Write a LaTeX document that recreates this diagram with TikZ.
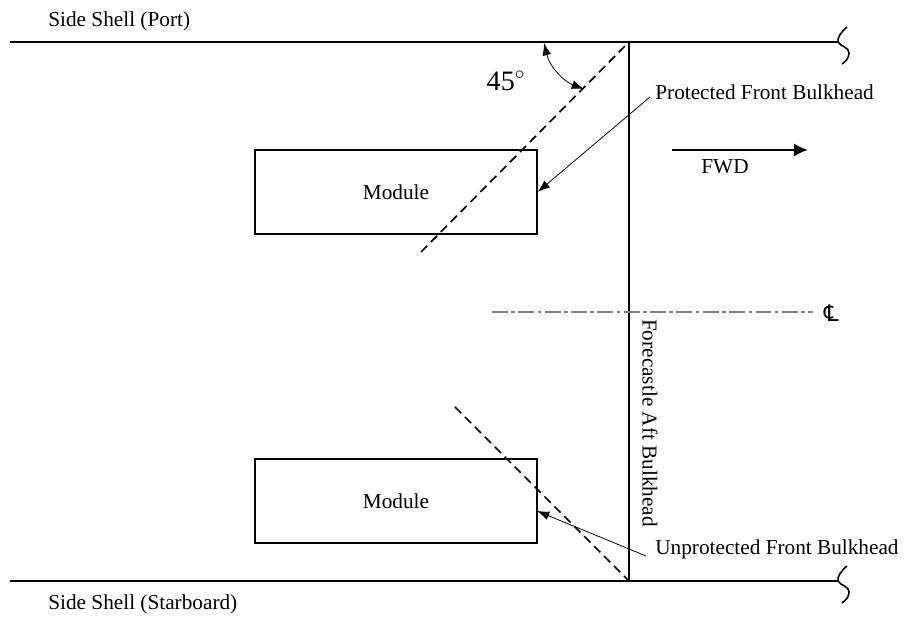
\documentclass[tikz,border=0pt]{standalone}
\usepackage{fontspec}
\setmainfont{Liberation Serif}
\newfontfamily\clfont{DejaVu Sans}
\usetikzlibrary{arrows.meta}
\tikzset{
	labeltext/.style={inner sep=0pt, font=\fontsize{12.1}{14}\selectfont},
	modulebox/.style={draw, line width=0.8pt, minimum width=5.64cm, minimum height=1.68cm, inner sep=0pt, font=\fontsize{12.1}{14}\selectfont},
	shell/.style={line width=1pt},
	breakline/.style={line width=0.9pt},
	bulkhead/.style={line width=0.95pt, dash pattern=on 5pt off 3pt},
	leader/.style={line width=0.45pt, -{Latex[length=7pt,width=5pt]}}
}
\begin{document}
\begin{tikzpicture}[x=0.02cm,y=-0.02cm]
	\useasboundingbox (0,0) rectangle (904,624);
	% Corners
	\coordinate (portaft) at (10,42);
	\coordinate (portjoin) at (629,42);
	\coordinate (portend) at (838,42);
	\coordinate (stbdaft) at (10,581);
	\coordinate (stbdjoin) at (629,581);
	\coordinate (stbdend) at (838,581);
	% Modules
	\node[modulebox] (portmodule) at (396,192) {Module};
	\node[modulebox] (stbdmodule) at (396,501) {Module};
	% Shell and bulkhead
	\draw[shell] (portaft) -- (portend);
	\draw[shell] (stbdaft) -- (stbdend);
	\draw[shell] (portjoin) -- (stbdjoin);
	% Break marks
	\draw[breakline] (847,27) .. controls (841,32) and (837,38) .. (portend) .. controls (841,47) and (849,47) .. (849,53) .. controls (849,58) and (846,61) .. (842,64);
	\draw[breakline] (847,566) .. controls (841,571) and (837,577) .. (stbdend) .. controls (841,586) and (849,586) .. (849,592) .. controls (849,597) and (846,600) .. (842,603);
	% Front bulkheads
	\coordinate (portdash) at (421,252);
	\coordinate (stbddash) at (455,407);
	\draw[bulkhead] (portdash) -- (portjoin);
	\draw[bulkhead] (stbddash) -- (stbdjoin);
	% Angle
	\coordinate (angletop) at (544,43);
	\coordinate (anglelow) at (584,89);
	\draw[line width=0.45pt, {Latex[length=7pt,width=5pt]}-{Latex[length=7pt,width=5pt]}] (angletop) .. controls (550,68) and (565,82) .. (anglelow);
	\node[inner sep=0pt, font=\fontsize{16}{18}\selectfont] (anglelabel) at (506,81) {45$^\circ$};
	% Labels
	\node[labeltext, anchor=west] (portlabel) at (48,21) {Side Shell (Port)};
	\node[labeltext, anchor=west] (stbdlabel) at (48,604) {Side Shell (Starboard)};
	\node[labeltext, anchor=west] (protlabel) at (655,92) {Protected Front Bulkhead};
	\node[labeltext, anchor=west] (unprotlabel) at (655,549) {Unprotected Front Bulkhead};
	\node[labeltext, rotate=-90] (aftlabel) at (650,423) {Forecastle Aft Bulkhead};
	% Leaders
	\coordinate (protstart) at (650,97);
	\coordinate (unprotstart) at (646,556);
	\coordinate (unprotend) at (537,511);
	\draw[leader] (protstart) -- (portmodule.east);
	\draw[leader] (unprotstart) -- (unprotend);
	% Forward arrow
	\coordinate (fwdstart) at (672,150);
	\coordinate (fwdend) at (808,150);
	\draw[line width=1.3pt, -{Latex[length=8pt,width=7.5pt]}] (fwdstart) -- (fwdend);
	\node[labeltext] (fwdlabel) at (725,167) {FWD};
	% Centre line
	\coordinate (clstart) at (492,312);
	\coordinate (clend) at (813,312);
	\draw[gray, line width=0.9pt, dash pattern=on 9pt off 2pt on 2pt off 2pt] (clstart) -- (clend);
	\node[inner sep=0pt, font=\clfont\itshape\fontsize{13}{15}\selectfont] (cllabel) at (831,313) {℄};
\end{tikzpicture}
\end{document}
